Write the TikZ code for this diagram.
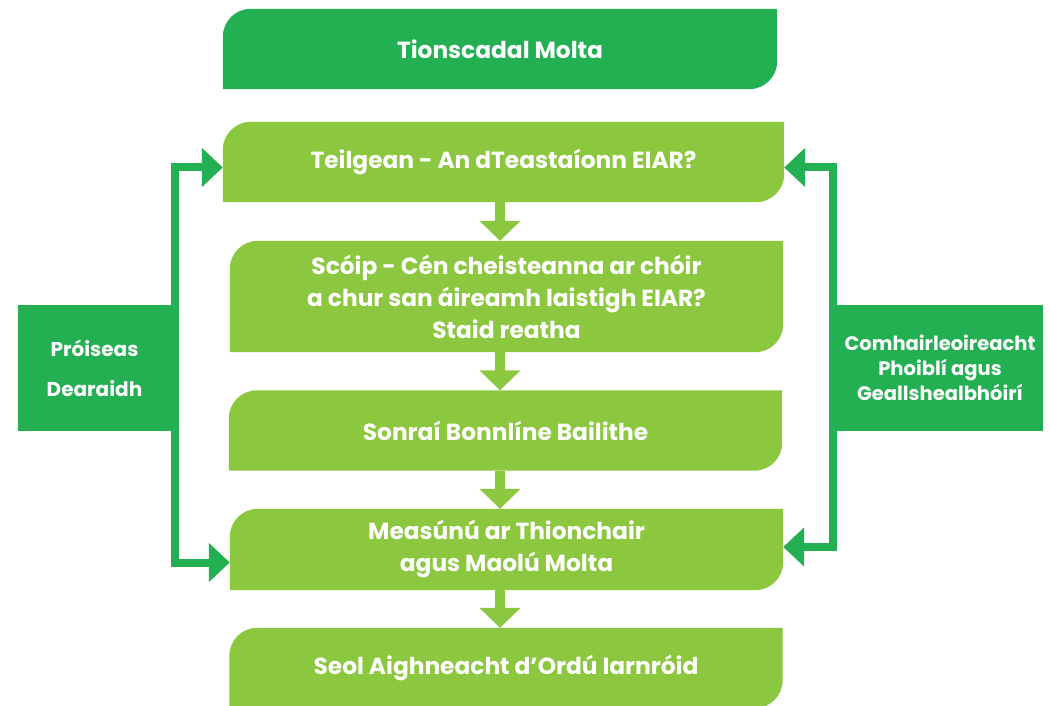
\documentclass[tikz,border=0pt]{standalone}
\usepackage{fontspec}
\setmainfont{Poppins}
\usetikzlibrary{arrows.meta,backgrounds}
\definecolor{dgreen}{RGB}{35,176,82}
\definecolor{lgreen}{RGB}{140,199,64}
\newcommand{\leaf}[2]{%
  \fill[#2] (#1.south west) -- ([yshift=-28pt]#1.north west) arc[start angle=180,end angle=90,radius=28pt]
    -- (#1.north east) -- ([yshift=28pt]#1.south east) arc[start angle=0,end angle=-90,radius=28pt] -- cycle;}

\begin{document}
\begin{tikzpicture}[x=1pt,y=1pt,
    box/.style={minimum width=553pt,minimum height=80pt,inner sep=0pt,align=center,text=white,
      font=\fontsize{23.3}{32}\selectfont\bfseries},
    side/.style={fill=dgreen,minimum height=126pt,inner sep=0pt,align=center,text=white},
    flow/.style={line width=10pt,lgreen,-{Triangle[length=20pt,width=40pt]}},
    feed/.style={line width=8pt,dgreen,line join=miter,
      {Triangle[length=21pt,width=38pt]}-{Triangle[length=21pt,width=38pt]}}]
  \useasboundingbox (0,0) rectangle (1051,705);
  \begin{scope}
    \node[box,minimum width=554pt] (T) at (500,656) {Tionscadal Molta};
    \node[box,minimum width=561pt] (A) at (503.5,543) {Teilgean - An dTeastaíonn EIAR?};
    \node[box,minimum height=111pt] (B) at (506.5,408.5) {Scóip - Cén cheisteanna ar chóir\\a chur san áireamh laistigh EIAR?\\Staid reatha};
    \node[box] (C) at (505.5,274.5) {Sonraí Bonnlíne Bailithe};
    \node[box,minimum height=81pt] (D) at (506.5,155.5) {Measúnú ar Thionchair\\agus Maolú Molta};
    \node[box] (E) at (506,37) {Seol Aighneacht d’Ordú Iarnróid};

    \node[side,minimum width=153pt,font=\fontsize{20}{40}\selectfont\bfseries] (P) at (94.5,337) {Próiseas\\Dearaidh};
    \node[side,minimum width=206pt,font=\fontsize{19.5}{25}\selectfont\bfseries] (Q) at (940,337) {Comhairleoireacht\\Phoiblí agus\\Geallshealbhóirí};

    \begin{pgfonlayer}{background}
      \leaf{T}{dgreen}
      \foreach \n in {A,B,C,D,E} {\leaf{\n}{lgreen}}
    \end{pgfonlayer}

    \foreach \a/\b in {A/B,B/C,C/D,D/E}
      \draw[flow] (\a.south -| T) -- (\b.north -| T);

    \draw[feed] ([yshift=-5.5pt]A.west) -| ([xshift=4pt]P.east) |- ([yshift=-13pt]D.west);
    \draw[feed] ([yshift=-5.5pt]A.east) -| ([xshift=-4pt]Q.west) |- ([yshift=2.5pt]D.east);
  \end{scope}
\end{tikzpicture}
\end{document}
